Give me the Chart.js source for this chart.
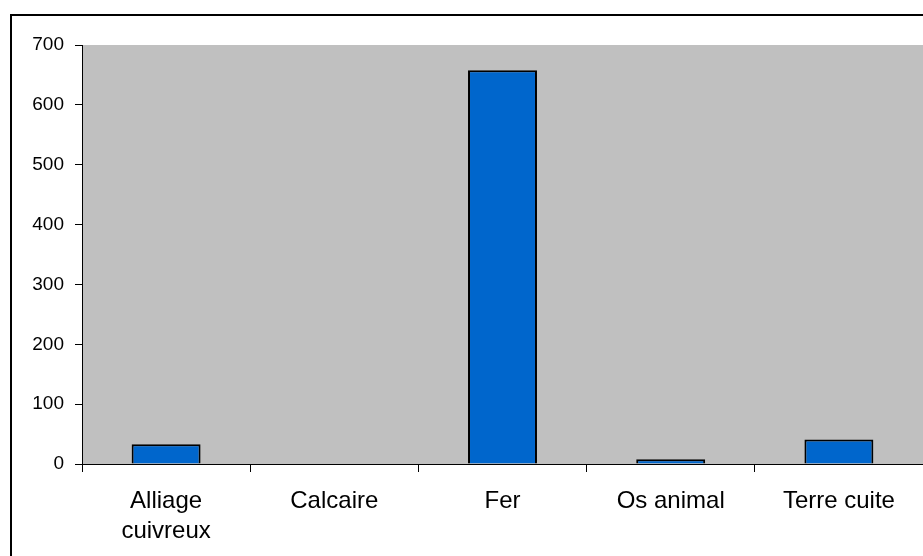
<!DOCTYPE html>
<html>
<head>
<meta charset="utf-8">
<script src="https://cdn.jsdelivr.net/npm/chart.js"></script>
<style>
  body { margin: 0; background: #fff; }
  #wrap { width: 923px; height: 556px; }
</style>
</head>
<body>
<div id="wrap"><canvas id="graphique"></canvas></div>
<script>
const categories = [["Alliage", "cuivreux"], "Calcaire", "Fer", "Os animal", "Terre cuite"];
const valeurs = [33, 0, 658, 8, 41];
const yMin = 0, yMax = 700, yStep = 100;

// fond gris de la zone de tracé + cadre
const fond = {
  id: 'fond',
  beforeDraw(chart) {
    const ctx = chart.ctx, a = chart.chartArea;
    ctx.save();
    ctx.fillStyle = '#fff';
    ctx.fillRect(0, 0, chart.width, chart.height);
    ctx.fillStyle = '#c0c0c0';
    ctx.fillRect(a.left, a.top, a.right - a.left, a.bottom - a.top);
    ctx.strokeStyle = '#000';
    ctx.lineWidth = 2;
    ctx.strokeRect(11, 15, 1000, 1000);
    ctx.restore();
  }
};

new Chart(document.getElementById('graphique'), {
  type: 'bar',
  data: {
    labels: categories,
    datasets: [{
      data: valeurs,
      backgroundColor: '#0066cc',
      borderColor: '#000',
      borderWidth: 2,
      barPercentage: 0.41,
      categoryPercentage: 1
    }]
  },
  options: {
    responsive: true,
    maintainAspectRatio: false,
    animation: false,
    layout: { padding: { top: 45, left: 0, right: 0, bottom: 0 } },
    plugins: { legend: { display: false }, tooltip: { enabled: false } },
    scales: {
      x: {
        grid: { drawOnChartArea: false, tickLength: 8, color: '#000', offset: true },
        border: { display: true, color: '#000', width: 1 },
        ticks: {
          color: '#000',
          font: { family: 'Arial, "Liberation Sans"', size: 24, lineHeight: 1.25 },
          padding: 14,
          maxRotation: 0,
          autoSkip: false
        },
        afterFit(s) { s.height = 92; }
      },
      y: {
        min: yMin,
        max: yMax,
        grid: { drawOnChartArea: false, tickLength: 7, color: '#000' },
        border: { display: true, color: '#000', width: 1 },
        ticks: {
          stepSize: yStep,
          color: '#000',
          font: { family: 'Arial, "Liberation Sans"', size: 19 },
          padding: 11
        },
        afterFit(s) { s.width = 82; }
      }
    }
  },
  plugins: [fond]
});
</script>
</body>
</html>
